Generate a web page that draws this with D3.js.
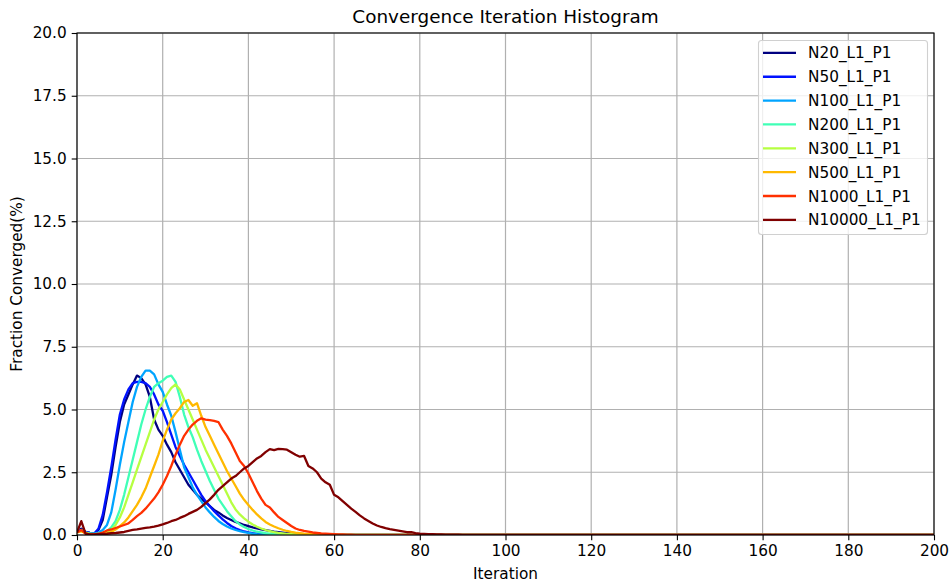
<!DOCTYPE html>
<html>
<head>
<meta charset="utf-8">
<script src="https://cdn.jsdelivr.net/npm/d3@7"></script>
<style>
  body { margin: 0; background: #fff; }
  svg { font-family: "DejaVu Sans", sans-serif; }
</style>
</head>
<body>
<div id="chart-area"></div>
<script>
// series names and colours (jet colormap steps)
var seriesNames = ["N20_L1_P1", "N50_L1_P1", "N100_L1_P1", "N200_L1_P1",
	"N300_L1_P1", "N500_L1_P1", "N1000_L1_P1", "N10000_L1_P1"];
var seriesColors = ["#000080", "#0012ff", "#00a4ff", "#40ffb6",
	"#b6ff41", "#ffb900", "#ff3000", "#800000"];

var xTicks = [0, 20, 40, 60, 80, 100, 120, 140, 160, 180, 200];
var yTicks = [0, 2.5, 5, 7.5, 10, 12.5, 15, 17.5, 20];

// fraction converged (%) per iteration 0,1,2,... (zero afterwards)
var n20 = [0.15, 0.25, 0.12, 0.08, 0.05, 0.2, 0.6, 1.5, 2.4, 3.5, 4.5, 5.2, 5.6, 6.0, 6.35, 6.25, 6.0, 5.5, 4.6, 4.2,
	3.95, 3.6, 3.3, 2.9, 2.6, 2.3, 2.0, 1.8, 1.6, 1.45, 1.3, 1.15, 1.0, 0.9, 0.78, 0.68, 0.6, 0.52, 0.46, 0.4,
	0.35, 0.3, 0.26, 0.22, 0.19, 0.16, 0.13, 0.11, 0.09, 0.07, 0.06, 0.05, 0.04, 0.03, 0.02, 0.02, 0.01, 0.01, 0.01, 0.01, 0];
var n50 = [0.15, 0.2, 0.12, 0.08, 0.05, 0.25, 0.8, 1.7, 2.7, 3.8, 4.8, 5.4, 5.8, 6.05, 6.1, 6.1, 6.05, 5.9, 5.6, 5.2,
	4.95, 4.5, 4.0, 3.5, 3.15, 2.8, 2.5, 2.2, 1.9, 1.6, 1.35, 1.15, 0.95, 0.78, 0.62, 0.48, 0.36, 0.27, 0.2, 0.14,
	0.1, 0.07, 0.05, 0.03, 0.02, 0.01, 0];
var n100 = [0.15, 0.2, 0.1, 0.06, 0.05, 0.1, 0.2, 0.4, 0.9, 1.8, 2.8, 3.7, 4.5, 5.3, 5.9, 6.3, 6.55, 6.55, 6.4, 6.0,
	5.7, 5.2, 4.75, 4.1, 3.4, 2.7, 2.3, 1.9, 1.6, 1.35, 1.1, 0.9, 0.72, 0.56, 0.44, 0.34, 0.26, 0.2, 0.15, 0.11,
	0.08, 0.05, 0.03, 0.02, 0.01, 0];
var n200 = [0.12, 0.18, 0.1, 0.05, 0.04, 0.05, 0.1, 0.15, 0.3, 0.55, 1.0, 1.6, 2.3, 3.0, 3.7, 4.4, 5.0, 5.5, 5.9, 6.05,
	6.15, 6.3, 6.35, 6.1, 5.5, 4.8, 4.3, 3.9, 3.4, 2.95, 2.55, 2.15, 1.8, 1.45, 1.2, 0.95, 0.75, 0.55, 0.42, 0.32,
	0.24, 0.18, 0.13, 0.1, 0.07, 0.05, 0.03, 0.02, 0.01, 0];
var n300 = [0.1, 0.15, 0.08, 0.04, 0.03, 0.03, 0.05, 0.1, 0.2, 0.4, 0.7, 1.1, 1.6, 2.1, 2.6, 3.1, 3.6, 4.1, 4.6, 5.0,
	5.3, 5.6, 5.85, 6.0, 5.8, 5.4, 5.0, 4.6, 4.2, 3.8, 3.4, 3.05, 2.7, 2.35, 2.0, 1.65, 1.3, 1.02, 0.82, 0.66,
	0.53, 0.42, 0.33, 0.26, 0.2, 0.15, 0.11, 0.08, 0.06, 0.04, 0.03, 0.02, 0.01, 0];
var n500 = [0.1, 0.15, 0.07, 0.03, 0.02, 0.02, 0.04, 0.07, 0.12, 0.22, 0.35, 0.5, 0.7, 0.95, 1.2, 1.5, 1.85, 2.3, 2.75, 3.2,
	3.75, 4.2, 4.6, 4.85, 5.05, 5.3, 5.38, 5.15, 5.25, 4.75, 4.3, 3.95, 3.6, 3.25, 2.9, 2.55, 2.25, 1.95, 1.65, 1.4,
	1.2, 1.0, 0.82, 0.66, 0.52, 0.42, 0.34, 0.27, 0.21, 0.16, 0.12, 0.09, 0.07, 0.05, 0.04, 0.03, 0.02, 0.01, 0];
var n1000 = [0.1, 0.2, 0.05, 0.02, 0.02, 0.05, 0.1, 0.18, 0.22, 0.28, 0.34, 0.4, 0.46, 0.6, 0.75, 0.88, 1.05, 1.25, 1.45, 1.7,
	2.0, 2.35, 2.75, 3.2, 3.6, 3.95, 4.2, 4.4, 4.55, 4.65, 4.6, 4.58, 4.55, 4.5, 4.2, 3.95, 3.65, 3.3, 2.95, 2.75,
	2.45, 2.1, 1.75, 1.45, 1.2, 1.1, 0.9, 0.72, 0.6, 0.48, 0.36, 0.26, 0.2, 0.16, 0.13, 0.1, 0.08, 0.06, 0.05, 0.04,
	0.03, 0.02, 0.02, 0.01, 0.01, 0];
var n10000 = [0.1, 0.55, 0.05, 0.02, 0.02, 0.03, 0.04, 0.05, 0.07, 0.08, 0.1, 0.12, 0.16, 0.2, 0.22, 0.25, 0.28, 0.3, 0.33, 0.37,
	0.42, 0.48, 0.55, 0.6, 0.68, 0.75, 0.84, 0.92, 1.0, 1.12, 1.27, 1.42, 1.6, 1.8, 1.95, 2.1, 2.25, 2.35, 2.5, 2.65,
	2.75, 2.9, 3.05, 3.15, 3.3, 3.42, 3.38, 3.43, 3.42, 3.4, 3.3, 3.2, 3.12, 3.15, 2.75, 2.65, 2.5, 2.25, 2.1, 2.0,
	1.6, 1.5, 1.35, 1.2, 1.05, 0.92, 0.78, 0.66, 0.56, 0.46, 0.38, 0.32, 0.27, 0.23, 0.2, 0.17, 0.14, 0.11, 0.11, 0.07,
	0.05, 0.04, 0.03, 0.03, 0.02, 0.02, 0.01, 0.01, 0.01, 0.01, 0];

var seriesValues = [n20, n50, n100, n200, n300, n500, n1000, n10000];

var margin = {left: 77, right: 18, top: 33, bottom: 49};
var totalWidth = 952;
var totalHeight = 584;
var width = totalWidth - margin.left - margin.right;
var height = totalHeight - margin.top - margin.bottom;

var svg = d3.select("#chart-area")
	.append("svg")
	.attr("width", totalWidth)
	.attr("height", totalHeight);

var g = svg.append("g")
	.attr("transform", "translate(" + margin.left + ", " + margin.top + ")");

var x = d3.scaleLinear()
	.domain([0, 200])
	.range([0, width]);

var y = d3.scaleLinear()
	.domain([0, 20])
	.range([height, 0]);

// grid
g.append("g")
	.selectAll("line.vgrid")
	.data(xTicks)
	.enter().append("line")
	.attr("x1", (d) => x(d)).attr("x2", (d) => x(d))
	.attr("y1", 0).attr("y2", height)
	.attr("stroke", "#b0b0b0")
	.attr("stroke-width", 1.2);

g.append("g")
	.selectAll("line.hgrid")
	.data(yTicks)
	.enter().append("line")
	.attr("y1", (d) => y(d)).attr("y2", (d) => y(d))
	.attr("x1", 0).attr("x2", width)
	.attr("stroke", "#b0b0b0")
	.attr("stroke-width", 1.2);

// curves
svg.append("defs").append("clipPath")
	.attr("id", "plot-clip")
	.append("rect")
	.attr("width", width)
	.attr("height", height);

var line = d3.line()
	.x((d, i) => x(i))
	.y((d) => y(d));

var curves = g.append("g").attr("clip-path", "url(#plot-clip)");

seriesValues.forEach((vals, k) => {
	var full = vals.slice();
	while (full.length < 201) { full.push(0); }
	curves.append("path")
		.datum(full)
		.attr("fill", "none")
		.attr("stroke", seriesColors[k])
		.attr("stroke-width", 2.3)
		.attr("stroke-linejoin", "round")
		.attr("d", line);
});

// axes
var xAxisCall = d3.axisBottom(x)
	.tickValues(xTicks)
	.tickSize(5.3)
	.tickPadding(5)
	.tickFormat(d3.format("d"));

var yAxisCall = d3.axisLeft(y)
	.tickValues(yTicks)
	.tickSize(5.3)
	.tickPadding(5)
	.tickFormat(d3.format(".1f"));

var xAxisGroup = g.append("g")
	.attr("transform", "translate(0, " + height + ")")
	.call(xAxisCall);

var yAxisGroup = g.append("g")
	.call(yAxisCall);

[xAxisGroup, yAxisGroup].forEach((ax) => {
	ax.select(".domain").remove();
	ax.selectAll("line").attr("stroke", "#000").attr("stroke-width", 1.1);
	ax.selectAll("text")
		.attr("fill", "#000")
		.attr("font-size", "15.3px")
		.attr("font-family", "DejaVu Sans");
});

// frame
g.append("rect")
	.attr("width", width)
	.attr("height", height)
	.attr("fill", "none")
	.attr("stroke", "#000")
	.attr("stroke-width", 1.1);

// labels
svg.append("text")
	.attr("x", margin.left + width / 2)
	.attr("y", 23)
	.attr("text-anchor", "middle")
	.attr("font-size", "18.4px")
	.text("Convergence Iteration Histogram");

svg.append("text")
	.attr("x", margin.left + width / 2)
	.attr("y", 579)
	.attr("text-anchor", "middle")
	.attr("font-size", "15.3px")
	.text("Iteration");

svg.append("text")
	.attr("transform", "translate(22, " + (margin.top + height / 2) + ") rotate(-90)")
	.attr("text-anchor", "middle")
	.attr("font-size", "15.3px")
	.text("Fraction Converged(%)");

// legend
var legend = svg.append("g")
	.attr("transform", "translate(758, 40)");

legend.append("rect")
	.attr("x", 0.5)
	.attr("y", 0.5)
	.attr("width", 169)
	.attr("height", 194)
	.attr("rx", 3)
	.attr("fill", "#fff")
	.attr("fill-opacity", 0.8)
	.attr("stroke", "#d0d0d0")
	.attr("stroke-width", 1.1);

seriesNames.forEach((name, i) => {
	var row = legend.append("g")
		.attr("transform", "translate(0, " + (12.9 + i * 23.85) + ")");

	row.append("line")
		.attr("x1", 5)
		.attr("x2", 38)
		.attr("stroke", seriesColors[i])
		.attr("stroke-width", 2.3);

	row.append("text")
		.attr("x", 50)
		.attr("y", 5.5)
		.attr("font-size", "15.3px")
		.text(name);
});
</script>
</body>
</html>
